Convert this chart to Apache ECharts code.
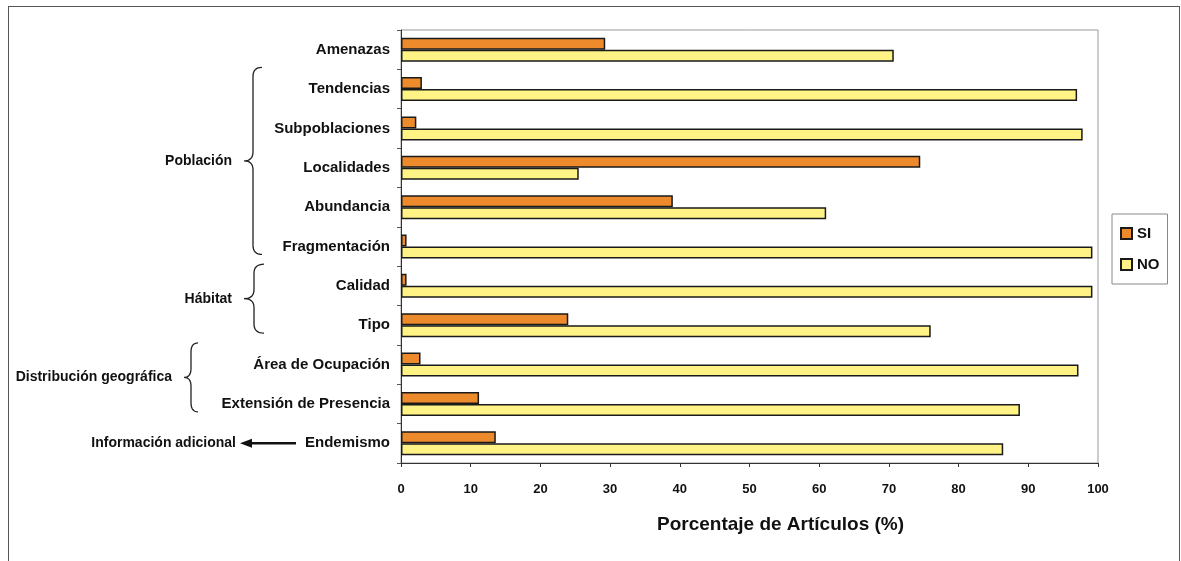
<!DOCTYPE html>
<html>
<head>
<meta charset="utf-8">
<script src="https://cdn.jsdelivr.net/npm/echarts@6/dist/echarts.min.js"></script>
<style>
  html, body { margin: 0; padding: 0; background: #fff; }
  #frame { position: absolute; left: 8px; top: 6px; width: 1172px; height: 560px; border: 1.5px solid #555; border-bottom: none; box-sizing: border-box; }
  #chart { position: absolute; left: 0; top: 0; width: 1181px; height: 561px; }
</style>
</head>
<body>
<div id="frame"></div>
<div id="chart"></div>
<script>
// Criteria evaluated in the articles (top to bottom)
const categories = [
  'Amenazas', 'Tendencias', 'Subpoblaciones', 'Localidades', 'Abundancia',
  'Fragmentación', 'Calidad', 'Tipo', 'Área de Ocupación',
  'Extensión de Presencia', 'Endemismo'
];
// Percentage of articles that report (SI) or do not report (NO) each criterion
const siValues = [29.3, 3.0, 2.2, 74.5, 39.0, 0.8, 0.8, 24.0, 2.8, 11.2, 13.6];
const noValues = [70.7, 97.0, 97.8, 25.5, 61.0, 99.2, 99.2, 76.0, 97.2, 88.8, 86.4];
const xTicks = { min: 0, max: 100, interval: 10 };

// Category groupings shown with braces on the left
const groups = [
  { name: 'Población', from: 'Tendencias', to: 'Fragmentación' },
  { name: 'Hábitat', from: 'Calidad', to: 'Tipo' },
  { name: 'Distribución geográfica', from: 'Área de Ocupación', to: 'Extensión de Presencia' }
];
const arrowNote = { name: 'Información adicional', at: 'Endemismo' };

const FONT = '"Liberation Sans", Arial, sans-serif';
const chart = echarts.init(document.getElementById('chart'));

const option = {
  backgroundColor: 'transparent',
  animation: false,
  grid: {
    left: 401, right: 83, top: 30, bottom: 98,
    show: true, borderColor: '#9a9a9a', borderWidth: 1, backgroundColor: 'transparent'
  },
  legend: {
    orient: 'vertical',
    left: 1112, top: 214,
    itemWidth: 11, itemHeight: 11, itemGap: 16,
    padding: [12, 8, 12, 8],
    borderColor: '#888', borderWidth: 1,
    textStyle: { fontFamily: FONT, fontWeight: 'bold', fontSize: 15, color: '#111' },
    data: [
      { name: 'SI', icon: 'rect' },
      { name: 'NO', icon: 'rect' }
    ]
  },
  xAxis: {
    type: 'value',
    min: xTicks.min, max: xTicks.max, interval: xTicks.interval,
    axisLine: { show: true, lineStyle: { color: '#333', width: 1 } },
    axisTick: { show: true, length: 4, lineStyle: { color: '#333' } },
    splitLine: { show: false },
    axisLabel: { fontFamily: FONT, fontWeight: 'bold', fontSize: 13, color: '#111', margin: 20 },
    name: 'Porcentaje de Artículos (%)',
    nameLocation: 'middle', nameGap: 52,
    nameTextStyle: { fontFamily: FONT, fontWeight: 'bold', fontSize: 19, color: '#111', padding: [0, 0, 0, 62] }
  },
  yAxis: {
    type: 'category',
    inverse: true,
    data: categories,
    axisLine: { show: true, lineStyle: { color: '#333', width: 1 } },
    axisTick: { show: true, length: 4, lineStyle: { color: '#555' } },
    axisLabel: { fontFamily: FONT, fontWeight: 'bold', fontSize: 15, color: '#111', margin: 11 }
  },
  series: [
    {
      name: 'SI', type: 'bar', data: siValues,
      barWidth: 12, barGap: '0%',
      itemStyle: { color: '#EC8A2C', borderColor: '#1a1a1a', borderWidth: 1.5 }
    },
    {
      name: 'NO', type: 'bar', data: noValues,
      barWidth: 12, barGap: '0%',
      itemStyle: { color: '#FFF385', borderColor: '#1a1a1a', borderWidth: 1.5 }
    }
  ]
};
chart.setOption(option);

// Sample a quadratic curve into points
function quad(p0, p1, p2, n) {
  const pts = [];
  for (let i = 1; i <= n; i++) {
    const t = i / n, u = 1 - t;
    pts.push([u * u * p0[0] + 2 * u * t * p1[0] + t * t * p2[0],
              u * u * p0[1] + 2 * u * t * p1[1] + t * t * p2[1]]);
  }
  return pts;
}
// Curly brace opening to the right, tip pointing left at (x, mid)
function bracePoints(x, y1, y2, w) {
  const ym = (y1 + y2) / 2;
  const xm = x + w * 0.5;
  const r = Math.min(9, (y2 - y1) / 6);
  let pts = [[x + w, y1]];
  pts = pts.concat(quad([x + w, y1], [xm, y1], [xm, y1 + r], 8));
  pts.push([xm, ym - r]);
  pts = pts.concat(quad([xm, ym - r], [xm, ym], [x, ym], 8));
  pts = pts.concat(quad([x, ym], [xm, ym], [xm, ym + r], 8));
  pts.push([xm, y2 - r]);
  pts = pts.concat(quad([xm, y2 - r], [xm, y2], [x + w, y2], 8));
  return pts;
}

const yOf = c => chart.convertToPixel({ yAxisIndex: 0 }, c);
const band = yOf(categories[1]) - yOf(categories[0]);
const braceLayout = [
  { x: 244, w: 18 },
  { x: 244, w: 20 },
  { x: 184, w: 14 }
];
const elements = [];
groups.forEach((g, i) => {
  const y1 = yOf(g.from) - band * 0.55;
  const y2 = yOf(g.to) + band * 0.2;
  const L = braceLayout[i];
  elements.push({
    type: 'polyline',
    shape: { points: bracePoints(L.x, y1, y2, L.w) },
    style: { fill: null, stroke: '#222', lineWidth: 1.3 }
  });
  elements.push({
    type: 'text',
    x: L.x - 12, y: (y1 + y2) / 2,
    style: {
      text: g.name, fontFamily: FONT, fontWeight: 'bold', fontSize: 14,
      fill: '#111', align: 'right', verticalAlign: 'middle'
    }
  });
});

// Arrow pointing from the last category to its note
const ya = yOf(arrowNote.at);
elements.push({
  type: 'line',
  shape: { x1: 296, y1: ya, x2: 250, y2: ya },
  style: { stroke: '#111', lineWidth: 2.5 }
});
elements.push({
  type: 'polygon',
  shape: { points: [[240, ya], [252, ya - 4.5], [252, ya + 4.5]] },
  style: { fill: '#111' }
});
elements.push({
  type: 'text',
  x: 236, y: ya,
  style: {
    text: arrowNote.name, fontFamily: FONT, fontWeight: 'bold', fontSize: 14,
    fill: '#111', align: 'right', verticalAlign: 'middle'
  }
});
chart.setOption({ graphic: { elements: elements } });
</script>
</body>
</html>
